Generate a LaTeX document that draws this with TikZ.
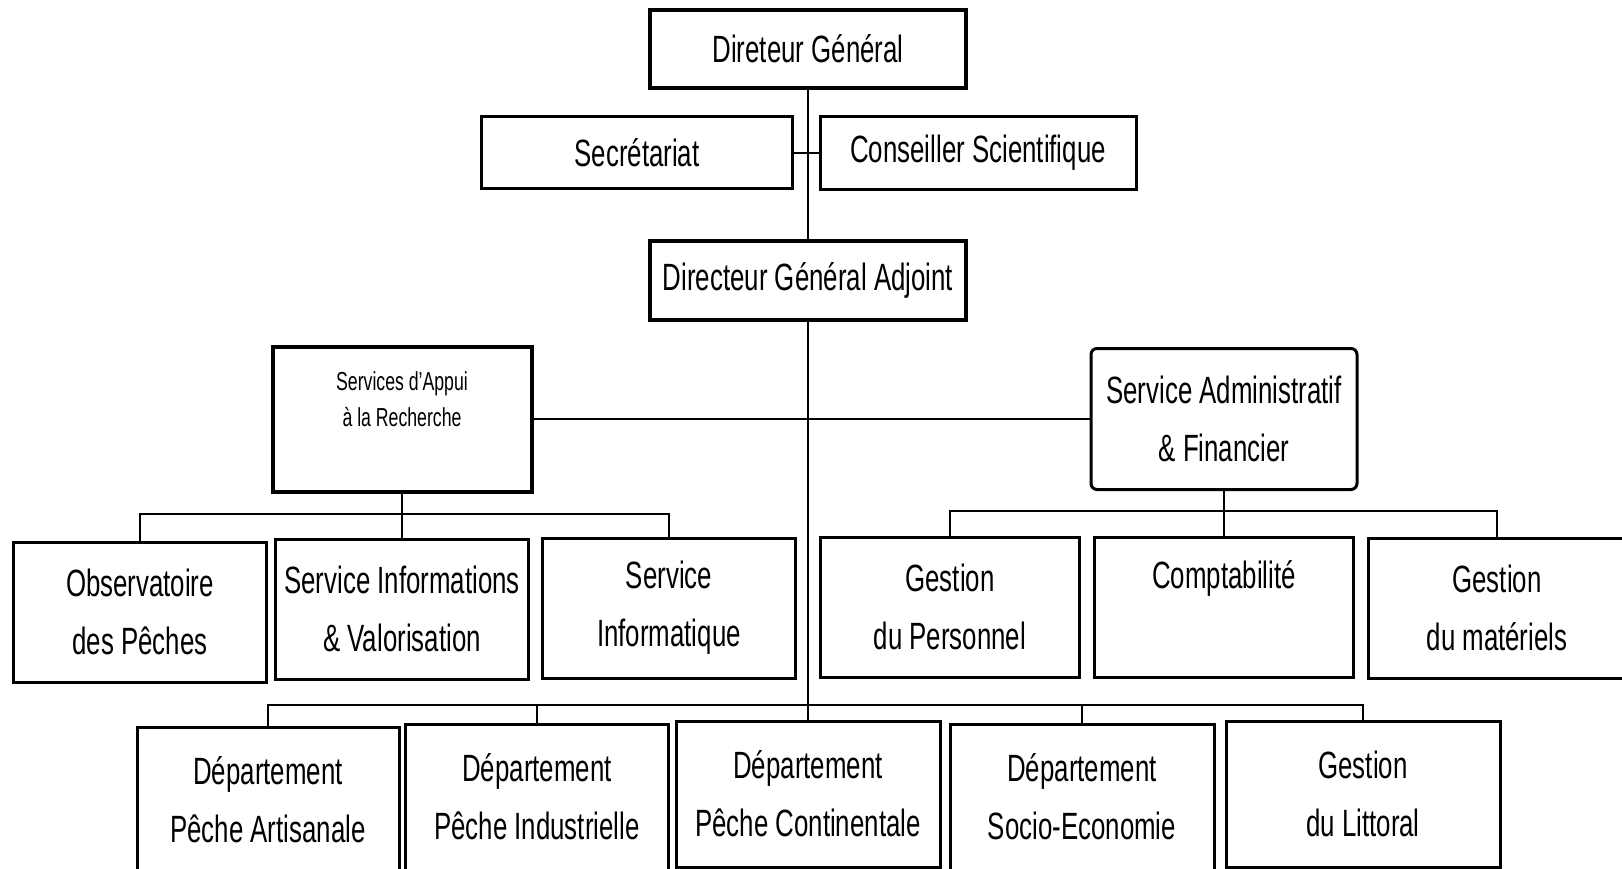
\documentclass[tikz,border=0pt]{standalone}
\usepackage{fontspec}
\setmainfont{Liberation Sans}[FakeStretch=0.68]
\tikzset{unit/.style={draw, line width=3pt, align=center, inner sep=0pt,
   font=\fontsize{38}{58}\selectfont},
 chief/.style={unit, line width=4pt},
 smalltext/.style={align=center, inner sep=0pt, font=\fontsize{26}{36}\selectfont},
 link/.style={draw, line width=2pt},
 }

\begin{document}
\begin{tikzpicture}[x=1pt, y=-1pt]
        \fill[white] (0,0) rectangle (1622,869);
        \useasboundingbox (0,0) rectangle (1622,869);
        % direction
        \node[chief, minimum width=316pt, minimum height=78pt] (dg) at (808,49) {Direteur Général};
        \node[unit, minimum width=311pt, minimum height=72pt] (sec) at (637,153) {Secrétariat};
        \node[unit, minimum width=316pt, minimum height=73pt] (cons) at (978,153) {Conseiller Scientifique};
        \node[chief, minimum width=316pt, minimum height=79pt] (dga) at (808,280) {Directeur Général Adjoint};
        \node[chief, minimum width=259pt, minimum height=145pt] (sar) at (402,419) {};
        \node[smalltext] (sartxt) at (402,399) {Services d'Appui\\à la Recherche};
        \node[unit, rounded corners=6pt, minimum width=266pt, minimum height=141pt] (saf) at (1224,419) {Service Administratif\\\& Financier};
        % services
        \foreach \name/\x/\y/\w/\txt in {obs/140/612/253/{Observatoire\\des Pêches},
            sinf/402/609/253/{Service Informations\\\& Valorisation},
            sinfo/669/608/253/{Service\\Informatique},
            gper/950/607/259/{Gestion\\du Personnel},
            compta/1224/607/259/{Comptabilité\\\phantom{p}},
            gmat/1497/608/257/{Gestion\\du matériels}} {
            \node[unit, minimum width=\w pt, minimum height=140pt] (\name) at (\x,\y) {\txt};
        }
        % departements
        \foreach \name/\x/\y/\w/\txt in {pa/268/800/262/{Département\\Pêche Artisanale},
            pi/537/797/263/{Département\\Pêche Industrielle},
            pc/808/794/264/{Département\\Pêche Continentale},
            se/1082/797/264/{Département\\Socio-Economie},
            gl/1363/794/274/{Gestion\\du Littoral}} {
            \node[unit, minimum width=\w pt, minimum height=146pt] (\name) at (\x,\y) {\txt};
        }
        \draw[link] (dg) -- (dga);
        \draw[link] (sec) -- (cons);
        \draw[link] (dga) -- (pc);
        \draw[link] (sar) -- (saf);
        \coordinate (lbus) at (402,514);
        \draw[link] (sar) -- (sinf);
        \draw[link] (obs.north) |- (lbus) -| (sinfo.north);
        \coordinate (rbus) at (1224,511);
        \draw[link] (saf) -- (compta);
        \draw[link] (gper.north) |- (rbus) -| (gmat.north);
        \coordinate (bbus) at (808,705);
        \draw[link] (pa.north) |- (bbus) -| (gl.north);
        \draw[link] (pi.north) -- (pi.north |- bbus);
        \draw[link] (se.north) -- (se.north |- bbus);
\end{tikzpicture}
\end{document}
